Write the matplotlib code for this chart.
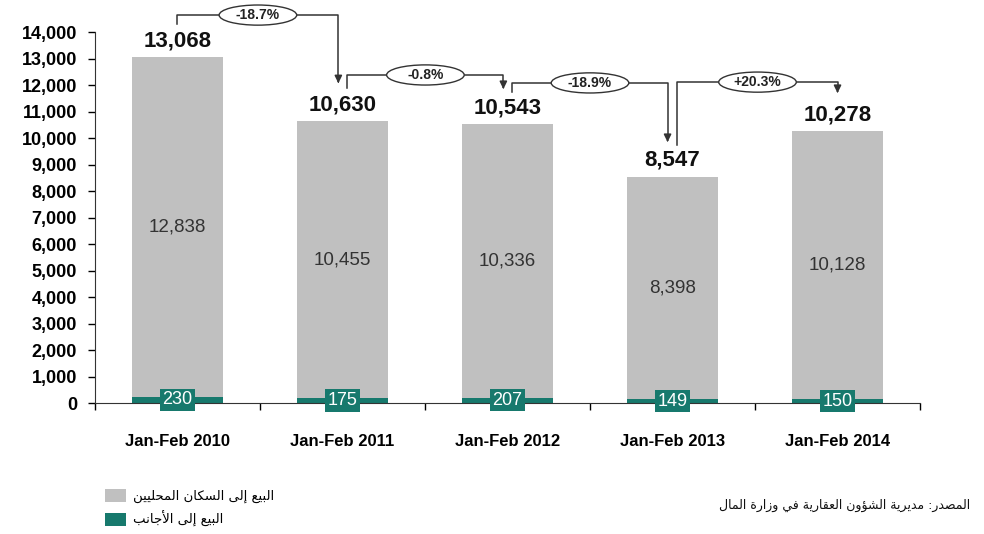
import matplotlib
matplotlib.use("Agg")
import matplotlib.pyplot as plt
from matplotlib.patches import Ellipse

plt.rcParams['font.family'] = ['Liberation Sans', 'DejaVu Sans']

# ---------------- data ----------------
categories = ["Jan-Feb 2010", "Jan-Feb 2011", "Jan-Feb 2012", "Jan-Feb 2013", "Jan-Feb 2014"]
locals_sales = [12838, 10455, 10336, 8398, 10128]
foreign_sales = [230, 175, 207, 149, 150]
totals = [13068, 10630, 10543, 8547, 10278]
changes = ["-18.7%", "-0.8%", "-18.9%", "+20.3%"]
legend_labels = ["البيع إلى السكان المحليين", "البيع إلى الأجانب"]
source_text = "المصدر: مديرية الشؤون العقارية في وزارة المال"

GRAY = "#c0c0c0"
TEAL = "#17796d"

# ------------- minimal Arabic shaping -------------
def _build_forms():
    spec = [(0x0621, 1), (0x0622, 2), (0x0623, 2), (0x0624, 2), (0x0625, 2), (0x0626, 4),
            (0x0627, 2), (0x0628, 4), (0x0629, 2)]
    spec += [(c, 4) for c in range(0x062A, 0x062F)]
    spec += [(c, 2) for c in range(0x062F, 0x0633)]
    spec += [(c, 4) for c in range(0x0633, 0x063B)]
    spec += [(c, 4) for c in range(0x0641, 0x0648)]
    spec += [(0x0648, 2), (0x0649, 2), (0x064A, 4)]
    forms = {}
    code = 0xFE80
    for c, n in spec:
        forms[chr(c)] = [chr(code + k) for k in range(n)]
        code += n
    return forms

_FORMS = _build_forms()
_LAMALEF = {"\u0622": (0xFEF5, 0xFEF6), "\u0623": (0xFEF7, 0xFEF8),
            "\u0625": (0xFEF9, 0xFEFA), "\u0627": (0xFEFB, 0xFEFC)}

def shape(text):
    chars = list(text)
    out = []
    i = 0
    n = len(chars)
    def dual(ch):
        return ch in _FORMS and len(_FORMS[ch]) == 4
    while i < n:
        ch = chars[i]
        prev = chars[i - 1] if i > 0 else None
        prev_joins = prev is not None and dual(prev)
        if ch == "\u0644" and i + 1 < n and chars[i + 1] in _LAMALEF:
            iso, fin = _LAMALEF[chars[i + 1]]
            out.append(chr(fin if prev_joins else iso))
            i += 2
            continue
        if ch in _FORMS:
            f = _FORMS[ch]
            nxt = chars[i + 1] if i + 1 < n else None
            next_joins = len(f) == 4 and nxt is not None and nxt in _FORMS
            if len(f) == 1:
                out.append(f[0])
            elif prev_joins and next_joins:
                out.append(f[3])
            elif prev_joins:
                out.append(f[1])
            elif next_joins:
                out.append(f[2])
            else:
                out.append(f[0])
        else:
            out.append(ch)
        i += 1
    return "".join(reversed(out))

# ---------------- figure ----------------
fig = plt.figure(figsize=(9.84, 5.34), dpi=100)
ax = fig.add_axes([0.0965, 0.2453, 0.8385, 0.6947])

x = list(range(len(categories)))
w = 0.55
b_f = ax.bar(x, foreign_sales, width=w, color=TEAL, zorder=2)
b_l = ax.bar(x, locals_sales, width=w, bottom=foreign_sales, color=GRAY, zorder=2)

ax.set_xlim(-0.5, len(categories) - 0.5)
ax.set_ylim(0, 14000)
ax.set_yticks(range(0, 14001, 1000))
ax.set_yticklabels([f"{v:,}" for v in range(0, 14001, 1000)], fontsize=13, fontweight='bold')
ax.set_xticks(x)
ax.set_xticklabels(categories, fontsize=12, fontweight='bold')
ax.tick_params(axis='x', length=0, pad=22)
ax.set_xticks([i - 0.5 for i in range(len(categories) + 1)], minor=True)
ax.tick_params(axis='x', which='minor', length=5, direction='out', width=1)
ax.tick_params(axis='y', length=5, width=1, direction='out', pad=8)
for s in ['top', 'right']:
    ax.spines[s].set_visible(False)
ax.spines['left'].set_color('#333333')
ax.spines['bottom'].set_color('#333333')
ax.spines['left'].set_zorder(3)
ax.spines['bottom'].set_zorder(3)

for i in x:
    ax.annotate(f"{totals[i]:,}", (i, totals[i]), xytext=(0, 4), textcoords='offset points',
                ha='center', va='bottom', fontsize=16, fontweight='bold', color='#111111')
    ax.text(i, foreign_sales[i] + locals_sales[i] / 2, f"{locals_sales[i]:,}",
            ha='center', va='center', fontsize=13.5, color='#333333', zorder=4)
    ax.text(i, foreign_sales[i] / 2, f"{foreign_sales[i]}", ha='center', va='center',
            fontsize=13, color='white', zorder=5,
            bbox=dict(boxstyle='square,pad=0.15', fc=TEAL, ec='none'))

# change arrows: (start_x, start_y, level_y, end_x, end_y)
paths = [
    (0.0, 14300, 14640, 0.975, 11960),
    (1.03, 11890, 12380, 1.975, 11740),
    (2.03, 11740, 12080, 2.97, 9740),
    (3.03, 9740, 12110, 4.0, 11590),
]
for (sx, sy, ly, ex, ey), lab in zip(paths, changes):
    ax.plot([sx, sx, ex, ex], [sy, ly, ly, ey + 250], color='#333333', lw=1.1,
            clip_on=False, zorder=4)
    ax.annotate("", xy=(ex, ey), xytext=(ex, ey + 300),
                arrowprops=dict(arrowstyle='-|>,head_length=0.45,head_width=0.22',
                                color='#333333', lw=1.1), annotation_clip=False)
    mx = (sx + ex) / 2
    e = Ellipse((mx, ly), 0.47, 760, fc='white', ec='#333333', lw=1, clip_on=False, zorder=5)
    ax.add_patch(e)
    ax.text(mx, ly, lab, ha='center', va='center', fontsize=10, fontweight='bold',
            color='#222222', zorder=6, clip_on=False)

leg = ax.legend([b_l, b_f], [shape(t) for t in legend_labels], loc='lower left',
                bbox_to_anchor=(0.095, -0.01), bbox_transform=fig.transFigure, frameon=False,
                prop={'family': 'DejaVu Sans', 'size': 9.5}, handlelength=1.6,
                handleheight=1.2, labelspacing=0.6, handletextpad=0.5)

fig.text(0.986, 0.054, shape(source_text), ha='right', va='center', fontsize=9,
         family='DejaVu Sans', color='#111111')

fig.savefig("out.png", dpi=100)
